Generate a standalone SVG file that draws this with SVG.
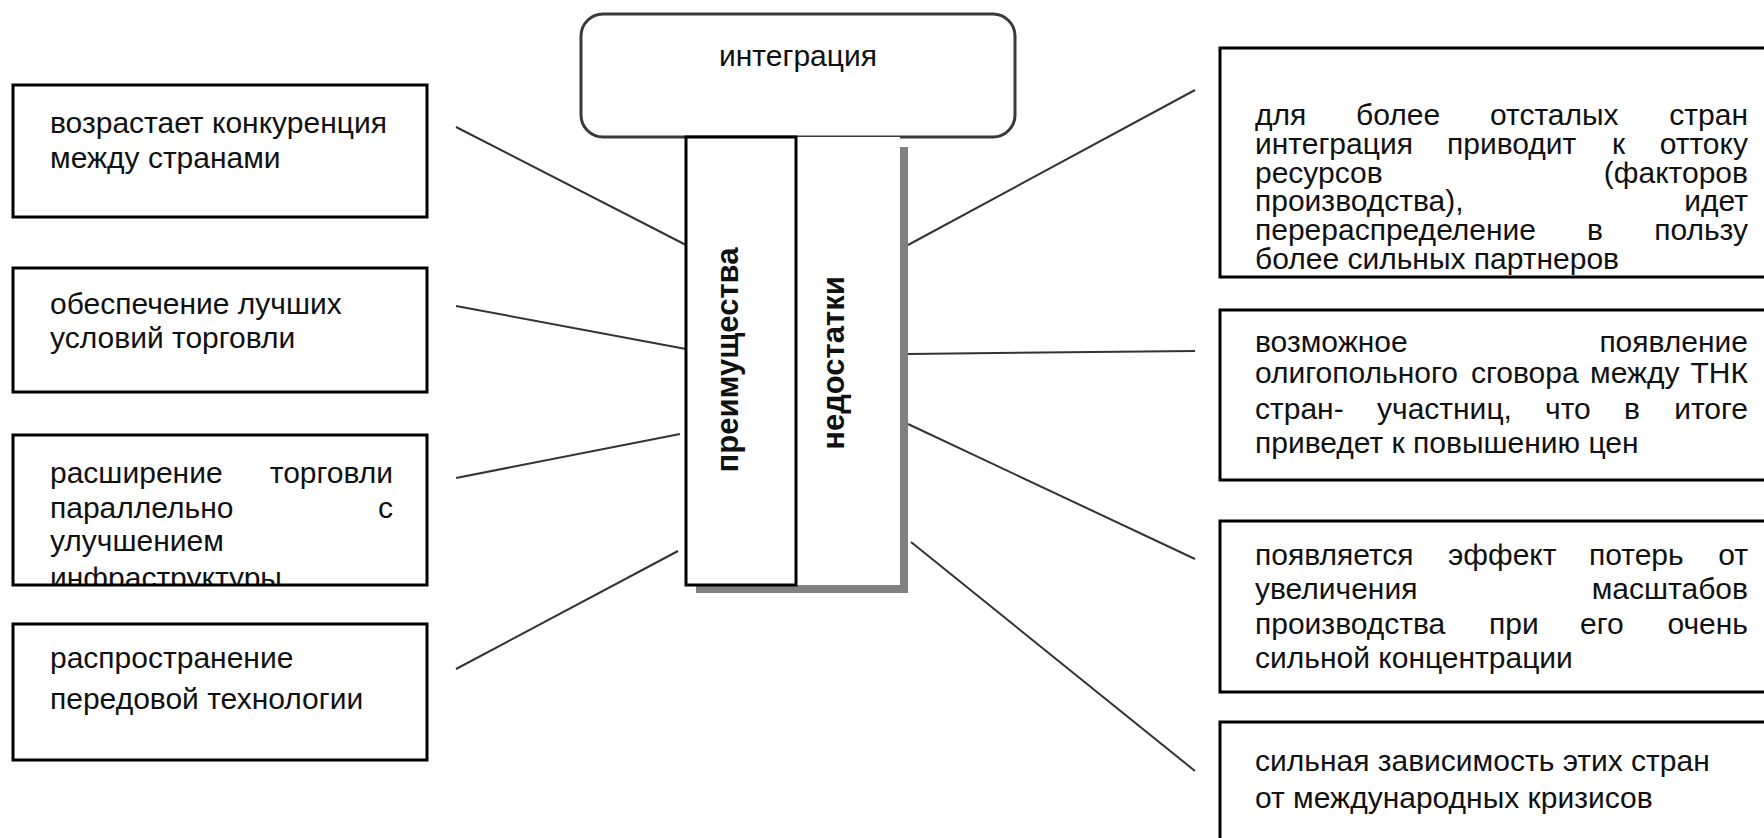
<svg xmlns="http://www.w3.org/2000/svg" width="1764" height="838" viewBox="0 0 1764 838">
<style>
.box{fill:#fff;stroke:#000;stroke-width:3}
.t{font-family:"Liberation Sans",Arial,sans-serif;font-size:30px;fill:#111}
.e{text-anchor:end}
.v{font-family:"Liberation Sans",Arial,sans-serif;font-size:31px;font-weight:bold;fill:#111;text-anchor:middle}
.c{stroke:#333;stroke-width:2;fill:none}
</style>
<defs>
<clipPath id="clipL3"><rect x="13" y="435" width="414" height="149"/></clipPath>
</defs>
<rect width="1764" height="838" fill="#fff"/>

<g id="connectors">
<line class="c" x1="456" y1="127" x2="686" y2="245"/>
<line class="c" x1="456" y1="306" x2="686" y2="349"/>
<line class="c" x1="456" y1="478" x2="680" y2="434"/>
<line class="c" x1="456" y1="669" x2="678" y2="551"/>
<line class="c" x1="908" y1="245" x2="1195" y2="90"/>
<line class="c" x1="908" y1="354" x2="1195" y2="351"/>
<line class="c" x1="908" y1="424" x2="1195" y2="559"/>
<line class="c" x1="911" y1="542" x2="1195" y2="771"/>
</g>

<g id="integration">
<rect x="581" y="14" width="434" height="123" rx="22" ry="22" fill="#fff" stroke="#3a3a3a" stroke-width="3"/>
<text class="t" x="798" y="66" text-anchor="middle" font-size="32">интеграция</text>
</g>

<g id="center">
<rect x="696" y="147" width="212" height="446" fill="#808080"/>
<g id="nedostatki">
<rect x="796" y="137" width="104" height="448" fill="#fff"/>
<text class="v" transform="translate(844,363) rotate(-90)">недостатки</text>
</g>
<g id="preimushchestva">
<rect x="686" y="137" width="110" height="448" class="box"/>
<text class="v" transform="translate(738,360) rotate(-90)">преимущества</text>
</g>
</g>

<g id="adv1">
<rect class="box" x="13" y="85" width="414" height="132"/>
<text class="t" x="50" y="133">возрастает конкуренция</text>
<text class="t" x="50" y="168">между странами</text>
</g>
<g id="adv2">
<rect class="box" x="13" y="268" width="414" height="124"/>
<text class="t" x="50" y="314">обеспечение лучших</text>
<text class="t" x="50" y="348">условий торговли</text>
</g>
<g id="adv3">
<rect class="box" x="13" y="435" width="414" height="150"/>
<g clip-path="url(#clipL3)">
<text class="t" x="50" y="483">расширение</text>
<text class="t e" x="393" y="483">торговли</text>
<text class="t" x="50" y="518">параллельно</text>
<text class="t e" x="393" y="518">с</text>
<text class="t" x="50" y="551">улучшением</text>
<text class="t" x="50" y="588">инфраструктуры</text>
</g>
</g>
<g id="adv4">
<rect class="box" x="13" y="624" width="414" height="136"/>
<text class="t" x="50" y="668">распространение</text>
<text class="t" x="50" y="709">передовой технологии</text>
</g>

<g id="dis1">
<rect class="box" x="1220" y="48" width="548" height="229"/>
<text class="t" x="1255" y="125">для</text>
<text class="t" x="1356" y="125">более</text>
<text class="t" x="1490" y="125">отсталых</text>
<text class="t e" x="1748" y="125">стран</text>
<text class="t" x="1255" y="154">интеграция</text>
<text class="t" x="1447" y="154">приводит</text>
<text class="t" x="1612" y="154">к</text>
<text class="t e" x="1748" y="154">оттоку</text>
<text class="t" x="1255" y="183">ресурсов</text>
<text class="t e" x="1748" y="183">(факторов</text>
<text class="t" x="1255" y="211">производства),</text>
<text class="t e" x="1748" y="211">идет</text>
<text class="t" x="1255" y="240">перераспределение</text>
<text class="t" x="1587" y="240">в</text>
<text class="t e" x="1748" y="240">пользу</text>
<text class="t" x="1255" y="269">более сильных партнеров</text>
</g>
<g id="dis2">
<rect class="box" x="1220" y="310" width="548" height="170"/>
<text class="t" x="1255" y="352">возможное</text>
<text class="t e" x="1748" y="352">появление</text>
<text class="t" x="1255" y="383">олигопольного</text>
<text class="t" x="1471" y="383">сговора</text>
<text class="t" x="1590" y="383">между</text>
<text class="t e" x="1748" y="383">ТНК</text>
<text class="t" x="1255" y="419">стран-</text>
<text class="t" x="1377" y="419">участниц,</text>
<text class="t" x="1545" y="419">что</text>
<text class="t" x="1624" y="419">в</text>
<text class="t e" x="1748" y="419">итоге</text>
<text class="t" x="1255" y="453">приведет к повышению цен</text>
</g>
<g id="dis3">
<rect class="box" x="1220" y="521" width="548" height="171"/>
<text class="t" x="1255" y="565">появляется</text>
<text class="t" x="1448" y="565">эффект</text>
<text class="t" x="1589" y="565">потерь</text>
<text class="t e" x="1748" y="565">от</text>
<text class="t" x="1255" y="599">увеличения</text>
<text class="t e" x="1748" y="599">масштабов</text>
<text class="t" x="1255" y="634">производства</text>
<text class="t" x="1489" y="634">при</text>
<text class="t" x="1580" y="634">его</text>
<text class="t e" x="1748" y="634">очень</text>
<text class="t" x="1255" y="668">сильной концентрации</text>
</g>
<g id="dis4">
<rect class="box" x="1220" y="722" width="548" height="130"/>
<text class="t" x="1255" y="771">сильная зависимость этих стран</text>
<text class="t" x="1255" y="808">от международных кризисов</text>
</g>
</svg>
